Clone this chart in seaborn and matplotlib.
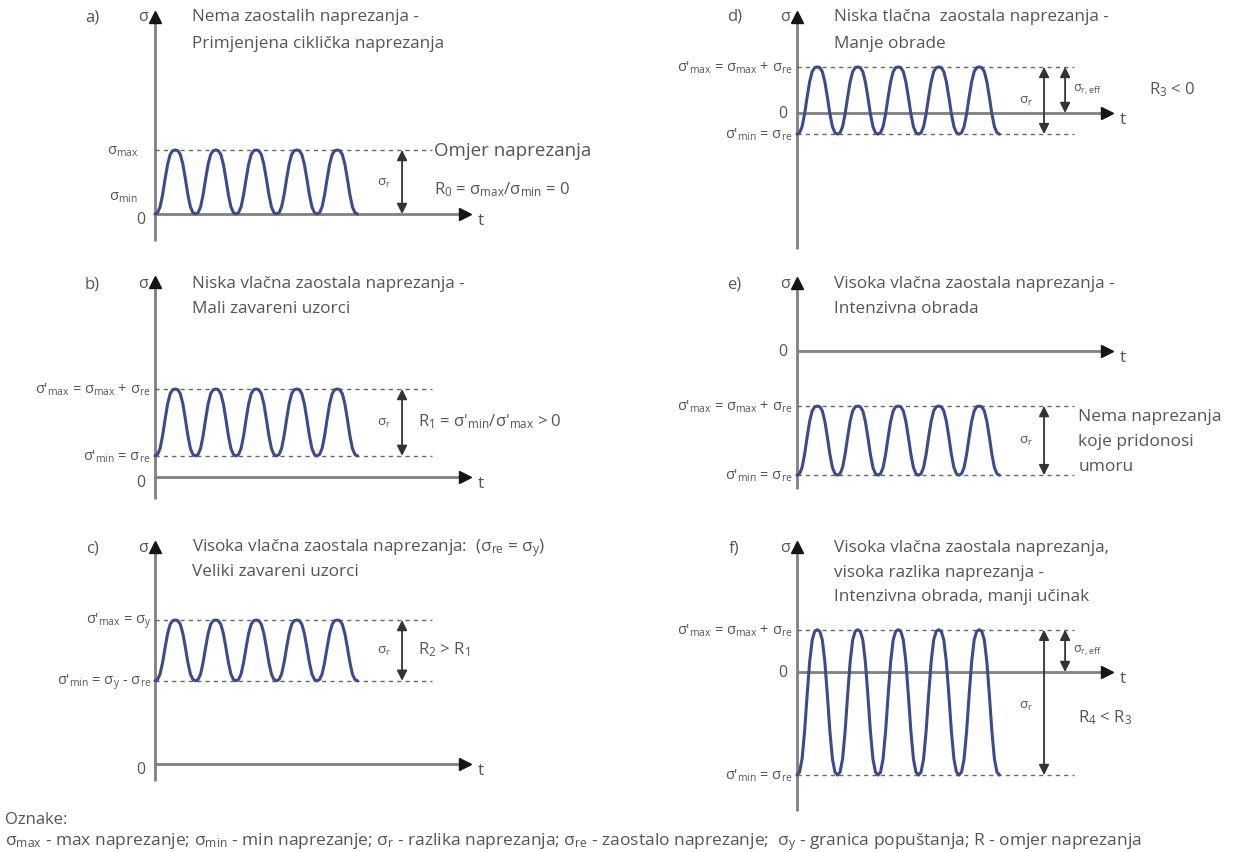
import matplotlib
matplotlib.use("Agg")
import matplotlib.pyplot as plt
import numpy as np
import pandas as pd
import seaborn as sns

# --- data (stress levels in units of the panel a range) ---
PANELS = ["a", "b", "c", "d", "e", "f"]
SIGMA_MAX = [1.0, 1.375, 2.25, 0.72, -0.86, 0.66]
SIGMA_MIN = [0.0, 0.33, 1.30, -0.33, -1.94, -1.61]
N_CYCLES = 5
# one load cycle, normalised height, sampled at 1/16 of a period
CYCLE_PROFILE = [0.0, 0.02, 0.11, 0.30, 0.55, 0.78, 0.93, 0.99,
                 1.0, 0.99, 0.93, 0.78, 0.55, 0.30, 0.11, 0.02]

TITLES = {
    "a": ["Nema zaostalih naprezanja -", "Primjenjena ciklička naprezanja"],
    "b": ["Niska vlačna zaostala naprezanja -", "Mali zavareni uzorci"],
    "c": ["Visoka vlačna zaostala naprezanja:  (σ$_{re}$ = σ$_y$)", "Veliki zavareni uzorci"],
    "d": ["Niska tlačna  zaostala naprezanja -", "Manje obrade"],
    "e": ["Visoka vlačna zaostala naprezanja -", "Intenzivna obrada"],
    "f": ["Visoka vlačna zaostala naprezanja,", "visoka razlika naprezanja -",
          "Intenzivna obrada, manji učinak"],
}
MAX_LABELS = {
    "a": "σ$_{max}$",
    "b": "σ'$_{max}$ = σ$_{max}$ + σ$_{re}$",
    "c": "σ'$_{max}$ = σ$_y$",
    "d": "σ'$_{max}$ = σ$_{max}$ + σ$_{re}$",
    "e": "σ'$_{max}$ = σ$_{max}$ + σ$_{re}$",
    "f": "σ'$_{max}$ = σ$_{max}$ + σ$_{re}$",
}
MIN_LABELS = {
    "a": "σ$_{min}$",
    "b": "σ'$_{min}$ = σ$_{re}$",
    "c": "σ'$_{min}$ = σ$_y$ - σ$_{re}$",
    "d": "σ'$_{min}$ = σ$_{re}$",
    "e": "σ'$_{min}$ = σ$_{re}$",
    "f": "σ'$_{min}$ = σ$_{re}$",
}
SIDE_NOTES = {
    "a": [("Omjer naprezanja", 1.0), ("R$_0$ = σ$_{max}$/σ$_{min}$ = 0", 0.39)],
    "b": [("R$_1$ = σ'$_{min}$/σ'$_{max}$ > 0", 0.875)],
    "c": [("R$_2$ > R$_1$", 1.8)],
    "d": [("R$_3$ < 0", 0.375)],
    "e": [("Nema naprezanja", -1.02), ("koje pridonosi", -1.41), ("umoru", -1.79)],
    "f": [("R$_4$ < R$_3$", -0.69)],
}
LEGEND_LINES = [
    "Oznake:",
    "σ$_{max}$ - max naprezanje; σ$_{min}$ - min naprezanje; σ$_r$ - razlika naprezanja; "
    "σ$_{re}$ - zaostalo naprezanje;  σ$_y$ - granica popuštanja; R - omjer naprezanja",
]

# --- layout (pixels of the 1243x853 canvas) ---
W, H = 1243, 853
CYCLE_PX, UNIT_PX = 40.5, 64.0
LAYOUT = {
    # box (x0, y0, x1, y1), origin (x, y), sigma-axis extent, title rows, side note x
    "a": dict(box=(0, 0, 620, 265), origin=(155, 215), yax=(-0.42, 3.08), rows=[3.09, 2.67], note_t=6.9),
    "b": dict(box=(0, 265, 620, 530), origin=(155, 478), yax=(-0.34, 3.05), rows=[3.03, 2.64], note_t=6.5),
    "c": dict(box=(0, 530, 620, 800), origin=(155, 765), yax=(-0.27, 3.39), rows=[3.39, 3.02], note_t=6.5),
    "d": dict(box=(620, 0, 1243, 265), origin=(797, 114), yax=(-2.13, 1.5), rows=[1.52, 1.09], note_t=8.7),
    "e": dict(box=(620, 265, 1243, 530), origin=(797, 352), yax=(-2.16, 1.06), rows=[1.06, 0.67], note_t=6.95),
    "f": dict(box=(620, 530, 1243, 815), origin=(797, 673), yax=(-2.17, 1.95), rows=[1.95, 1.57, 1.19], note_t=6.95),
}
NOTE_FS = {"a": [13.5, 12.0], "b": [12.0], "c": [12.0], "d": [12.0],
           "e": [12.5, 12.5, 12.5], "f": [12.0]}
TEXT_C = "#555555"
AXIS_C = "#808080"
WAVE_C = "#3c4a8e"
HEAD_C = "#151515"
TITLE_FS = 12.3
LABEL_FS = 10.5

sns.set_theme(style="white")
plt.rcParams["font.family"] = ["Open Sans", "DejaVu Sans"]
plt.rcParams["mathtext.fontset"] = "custom"
plt.rcParams["mathtext.rm"] = "Open Sans"
plt.rcParams["mathtext.it"] = "Open Sans"
plt.rcParams["mathtext.default"] = "regular"


def panel_axes(fig, box, origin):
    x0, y0, x1, y1 = box
    ox, oy = origin
    ax = fig.add_axes([x0 / W, 1 - y1 / H, (x1 - x0) / W, (y1 - y0) / H])
    ax.set_xlim((x0 - ox) / CYCLE_PX, (x1 - ox) / CYCLE_PX)
    ax.set_ylim((oy - y1) / UNIT_PX, (oy - y0) / UNIT_PX)
    ax.set_axis_off()
    return ax


def double_arrow(ax, t, lo, hi):
    ax.annotate("", xy=(t, hi), xytext=(t, lo),
                arrowprops=dict(arrowstyle="<|-|>", color="#333333", lw=1.3,
                                mutation_scale=15, shrinkA=0, shrinkB=0))


fig = plt.figure(figsize=(W / 100, H / 100), dpi=100)
fig.patch.set_facecolor("white")

profile = np.array(CYCLE_PROFILE + [0.0])
for name, s_max, s_min in zip(PANELS, SIGMA_MAX, SIGMA_MIN):
    lay = LAYOUT[name]
    ax = panel_axes(fig, lay["box"], lay["origin"])

    # coordinate axes
    y_lo, y_hi = lay["yax"]
    t_end = 7.66
    ax.plot([0, 0], [y_lo, y_hi], color=AXIS_C, lw=2.0, solid_capstyle="butt")
    ax.plot([0, t_end], [0, 0], color=AXIS_C, lw=2.0, solid_capstyle="butt")
    ax.plot(0, y_hi, marker="^", ms=9, color=HEAD_C, mec=HEAD_C)
    ax.plot(t_end, 0, marker=">", ms=9, color=HEAD_C, mec=HEAD_C)
    ax.text(t_end + 0.3, -0.1, "t", color=TEXT_C, fontsize=12.5, va="center", ha="left")
    zero_y = 0.0 if name in "def" else -0.08
    ax.text(-0.35, zero_y, "0", color=TEXT_C, fontsize=11.5, va="center", ha="center")

    # dashed limit lines
    dash_end = 6.84
    for level in (s_max, s_min):
        if name == "a" and level == 0.0:
            continue
        ax.plot([0, dash_end], [level, level], color="#666666", lw=1.0, ls=(0, (3, 3)))

    # cyclic stress
    tiled = np.concatenate([np.tile(profile[:-1], N_CYCLES), profile[-1:]])
    wave = pd.DataFrame({
        "t": np.arange(len(tiled)) / len(CYCLE_PROFILE),
        "sigma": s_min + (s_max - s_min) * tiled,
    })
    sns.lineplot(data=wave, x="t", y="sigma", ax=ax, color=WAVE_C, lw=2.2,
                 estimator=None, sort=False)

    # stress range arrows
    arrow_t = 6.1
    double_arrow(ax, arrow_t, s_min, s_max)
    ax.text(arrow_t - 0.45, (s_min + s_max) / 2 if name != "f" else -0.53,
            "σ$_r$", color=TEXT_C, fontsize=9.5, va="center", ha="center")
    if name in ("d", "f"):
        double_arrow(ax, 6.62, 0.0, s_max)
        ax.text(6.82, s_max / 2 + 0.03, "σ$_{r,eff}$", color=TEXT_C, fontsize=9,
                va="center", ha="left")

    # level labels
    label_t = -0.42 if name == "a" else -0.1
    ax.text(label_t, s_max, MAX_LABELS[name], color=TEXT_C, fontsize=LABEL_FS,
            va="center", ha="right")
    ax.text(label_t, s_min if name != "a" else 0.27, MIN_LABELS[name], color=TEXT_C,
            fontsize=LABEL_FS, va="center", ha="right")

    # panel letter, axis name and titles
    rows = lay["rows"]
    ax.text(-1.55, rows[0], name + ")", color=TEXT_C, fontsize=12, va="center", ha="center")
    ax.text(-0.3, rows[0], "σ", color=TEXT_C, fontsize=11.5, va="center", ha="center")
    for row, line in zip(rows, TITLES[name]):
        ax.text(0.92, row, line, color=TEXT_C, fontsize=TITLE_FS, va="center", ha="left")

    for (note, level), fs in zip(SIDE_NOTES[name], NOTE_FS[name]):
        ax.text(lay["note_t"], level, note, color=TEXT_C, fontsize=fs,
                va="center", ha="left")

fig.text(5 / W, 1 - 820 / H, LEGEND_LINES[0], color=TEXT_C, fontsize=12, va="center", ha="left")
fig.text(5 / W, 1 - 842 / H, LEGEND_LINES[1], color=TEXT_C, fontsize=12.5, va="center", ha="left")

fig.savefig("out.png", dpi=100, facecolor="white")
